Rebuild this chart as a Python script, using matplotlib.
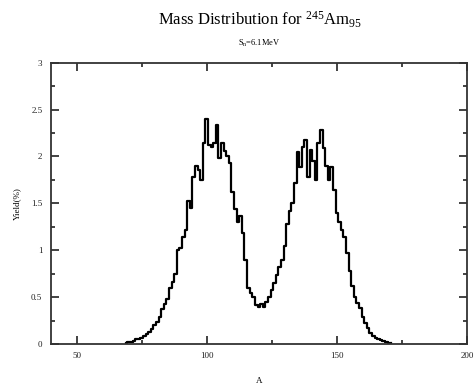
import numpy as np
import matplotlib
matplotlib.use("Agg")
import matplotlib.pyplot as plt

plt.rcParams['font.family'] = ['Liberation Serif', 'DejaVu Serif']
plt.rcParams['mathtext.fontset'] = 'custom'
plt.rcParams['mathtext.rm'] = 'Liberation Serif'
plt.rcParams['mathtext.it'] = 'Liberation Serif:italic'

mass_A = list(range(69, 172))
yield_pct = [
    0.01, 0.02, 0.02, 0.03, 0.05, 0.05, 0.06, 0.09, 0.11, 0.13,   # 69-78
    0.16, 0.20, 0.24, 0.29, 0.37, 0.43, 0.48, 0.60, 0.66, 0.75,   # 79-88
    1.00, 1.02, 1.14, 1.22, 1.53, 1.45, 1.78, 1.90, 1.86, 1.75,   # 89-98
    2.14, 2.40, 2.12, 2.10, 2.14, 2.33, 1.98, 2.14, 2.06, 2.00,   # 99-108
    1.93, 1.62, 1.44, 1.30, 1.36, 1.18, 0.90, 0.60, 0.54, 0.50,   # 109-118
    0.42, 0.40, 0.43, 0.40, 0.45, 0.50, 0.58, 0.65, 0.74, 0.82,   # 119-128
    0.90, 1.05, 1.28, 1.42, 1.50, 1.72, 2.05, 1.89, 2.10, 2.17,   # 129-138
    1.78, 2.07, 1.95, 1.75, 2.14, 2.28, 2.09, 1.90, 1.75, 1.89,   # 139-148
    1.64, 1.40, 1.30, 1.22, 1.14, 0.97, 0.78, 0.62, 0.50, 0.44,   # 149-158
    0.38, 0.29, 0.22, 0.17, 0.12, 0.09, 0.06, 0.05, 0.04, 0.03,   # 159-168
    0.02, 0.01, 0.01,                                             # 169-171
]
x_ticks = [50, 100, 150, 200]
x_tick_labels = ['50', '100', '150', '200']
y_ticks = [0, 0.5, 1, 1.5, 2, 2.5, 3]
y_tick_labels = ['0', '0.5', '1', '1.5', '2', '2.5', '3']

fig = plt.figure(figsize=(4.75, 3.84), dpi=100)
ax = fig.add_axes([0.1067, 0.104, 0.8763, 0.733])

ax.plot(mass_A, yield_pct, drawstyle='steps-mid', color='black', lw=1.6)

ax.set_xlim(40, 200)
ax.set_ylim(0, 3)
ax.set_xticks(x_ticks)
ax.set_xticklabels(x_tick_labels)
ax.set_yticks(y_ticks)
ax.set_yticklabels(y_tick_labels)
ax.set_xticks([75, 125, 175], minor=True)
ax.set_yticks(np.arange(0.25, 3, 0.5), minor=True)
ax.tick_params(which='both', direction='in', top=True, right=True,
               labelsize=6.5, colors='#222222', width=1.2)
ax.tick_params(which='major', length=6, pad=6)
ax.tick_params(which='minor', length=3)
for s in ax.spines.values():
    s.set_linewidth(1.3)
    s.set_color('#333333')

ax.set_xlabel('A', fontsize=6.5, labelpad=12)
ax.set_ylabel('Yield(%)', fontsize=6.5, labelpad=7)

fig.text(0.546, 0.948, r'Mass Distribution for $^{245}$Am$_{95}$',
         ha='center', va='center', fontsize=12)
fig.text(0.546, 0.888, r'S$_{\mathrm{n}}$=6.1MeV', ha='center', va='center',
         fontsize=6)

fig.savefig('out.png', dpi=100)
